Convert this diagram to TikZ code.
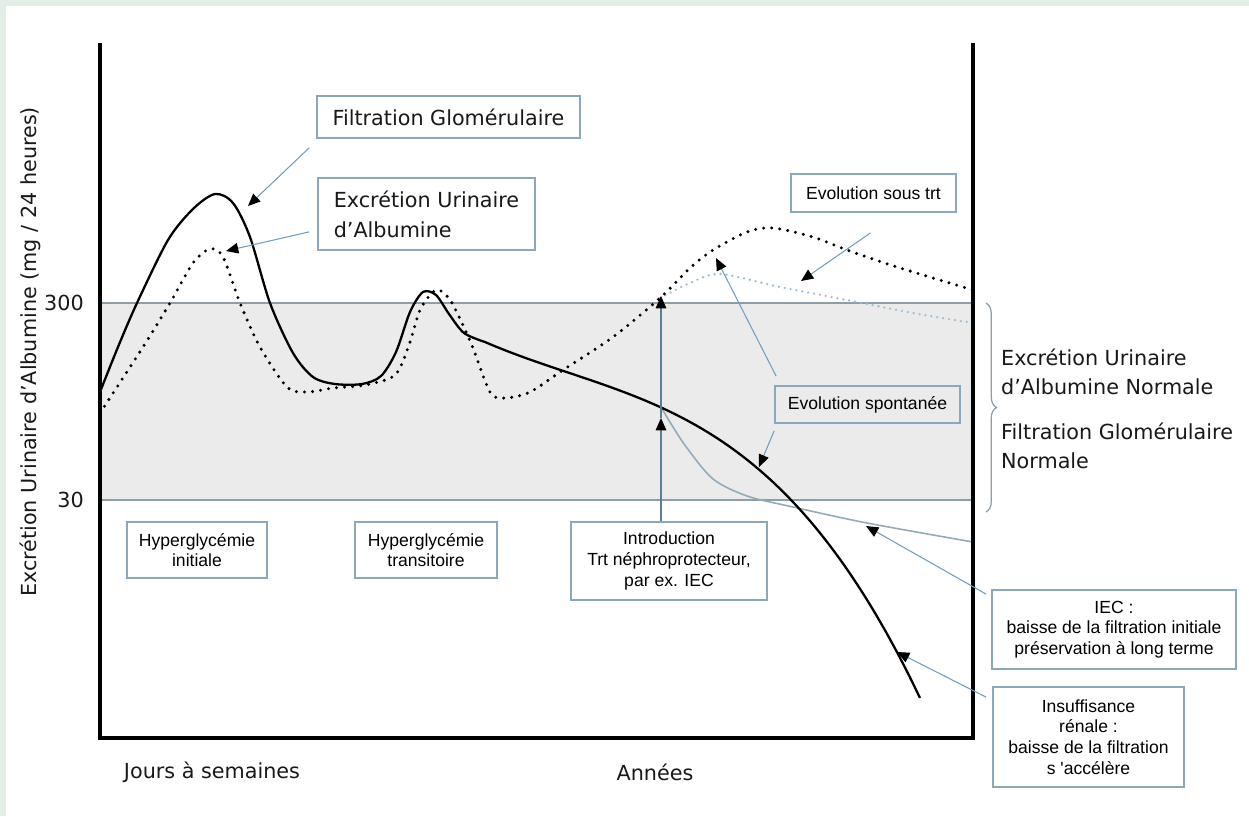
\documentclass[tikz,border=0pt]{standalone}
\usepackage{fontspec}
\setmainfont{DejaVu Sans}
\newfontfamily\boxfont{Liberation Sans}
\usepackage{tikz}
\usetikzlibrary{
    arrows.meta,
    calc,
    decorations.pathreplacing,
    positioning
}
\definecolor{framegreen}{HTML}{E2EFE6}
\definecolor{bandgray}{HTML}{EBEBEB}
\definecolor{bandline}{HTML}{8E9EA6}
\definecolor{leaderblue}{HTML}{6F9FBD}
\definecolor{boxblue}{HTML}{8AA8BA}
\definecolor{iecgray}{HTML}{93AAB8}
\definecolor{spontblue}{HTML}{A3BFD2}
\tikzset{
    axis/.style={line width=1.8pt, black, line join=miter},
    bandedge/.style={bandline, line width=0.8pt},
    fgcurve/.style={line width=1.3pt, black},
    euacurve/.style={line width=1.9pt, black, line cap=round, dash pattern=on 0pt off 4.6pt},
    spontcurve/.style={line width=1.5pt, spontblue, line cap=round, dash pattern=on 0pt off 3.4pt},
    ieccurve/.style={line width=0.9pt, iecgray},
    leader/.style={leaderblue, line width=0.6pt,
        -{Triangle[length=7pt, width=6pt, color=black, fill=black]}},
    introline/.style={leader, draw=leaderblue!80!black},
    bigbox/.style={draw=boxblue, line width=1pt, inner sep=0pt, align=left,
        font=\fontsize{11.8}{17}\selectfont, text=black!90},
    notebox/.style={draw=boxblue, line width=1pt, inner sep=0pt, align=center,
        font=\boxfont\fontsize{10}{11.8}\selectfont},
    bigtext/.style={font=\fontsize{11.8}{16.5}\selectfont, text=black!90, align=left},
    ticklabel/.style={font=\fontsize{11.8}{14}\selectfont, text=black!90, anchor=east}
}

\begin{document}
\begin{tikzpicture}[x=0.02cm, y=-0.02cm]
    \useasboundingbox (0,0) rectangle (1249,816);
    \fill[framegreen] (0,0) rectangle (1249,816);
    \fill[white] (6,6) rectangle (1249,816);
    % normal range
    \fill[bandgray] (100,303) rectangle (973,500);
    \draw[bandedge] (100,303) -- (973,303);
    \draw[bandedge] (100,500) -- (973,500);
    % curves
    \draw[ieccurve] plot[smooth] coordinates {(661,407) (673,427) (687,448) (713,479)
        (747,496) (793,507) (867,523) (973,542)};
    \draw[spontcurve] plot[smooth] coordinates {(660,298) (690,283) (720,274) (780,287)
        (847,300) (913,313) (973,323)};
    \draw[fgcurve] plot[smooth] coordinates {(100,392) (118,347) (137,303) (168,240)
        (193,209) (215,194) (233,203) (250,237) (270,303) (293,353) (313,377) (335,384)
        (362,384) (381,376) (396,352) (410,312) (423,292) (436,295) (449,314) (464,333)
        (485,342)}
        -- plot[domain=0:4.35, samples=40, smooth]
        ({485+100*\x}, {342 + 43.36*\x - 11.9*\x^2 + 4.769*\x^3});
    \draw[euacurve] plot[smooth] coordinates {(100,413) (143,347) (170,303) (193,263)
        (210,249) (223,257) (240,303) (260,347) (287,387) (307,392) (333,388) (365,385)
        (395,375) (409,345) (420,310) (433,292) (441,291) (452,303) (471,343) (490,392)
        (505,398) (530,392) (563,370) (613,337) (660,298) (690,268) (713,250) (747,232)
        (773,228) (813,237) (847,250) (897,267) (973,290)};
    \draw[axis] (100,43) -- (100,738) -- (973,738) -- (973,43);
    \draw[bandline, line width=0.7pt, decorate, decoration={brace, amplitude=6pt}]
        (986,303) -- (986,512);
    % axis texts
    \node[bigtext, rotate=90] (ylabel) at (30,352)
        {Excrétion Urinaire d’Albumine (mg / 24 heures)};
    \node[ticklabel] (t300) at (90,303) {300};
    \node[ticklabel] (t30) at (90,500) {30};
    \node[bigtext] (jours) at (212,772) {Jours à semaines};
    \node[bigtext] (annees) at (655,772) {Années};
    \node[bigtext, anchor=west] (euanorm) at (995,372) {Excrétion Urinaire\\d’Albumine Normale};
    \node[bigtext, anchor=west] (fgnorm) at (995,446) {Filtration Glomérulaire\\Normale};
    % boxes
    \node[bigbox, minimum width=5.26cm, minimum height=0.84cm] (fg) at (448.5,117)
        {Filtration Glomérulaire};
    \node[bigbox, minimum width=4.34cm, minimum height=1.44cm] (eua) at (426.5,214)
        {Excrétion Urinaire\\d’Albumine};
    \node[notebox, minimum width=3.3cm, minimum height=0.76cm] (sous) at (873.5,193)
        {Evolution sous trt};
    \node[notebox, minimum width=3.7cm, minimum height=0.74cm] (spont) at (867.5,404.5)
        {Evolution spontanée};
    \node[notebox, minimum width=2.8cm, minimum height=1.12cm] (hypinit) at (197,550)
        {Hyperglycémie\\initiale};
    \node[notebox, minimum width=2.84cm, minimum height=1.12cm] (hyptrans) at (426,550)
        {Hyperglycémie\\transitoire};
    \node[notebox, minimum width=3.92cm, minimum height=1.56cm] (intro) at (669,561)
        {Introduction\\Trt néphroprotecteur,\\par ex. IEC};
    \node[notebox, minimum width=4.88cm, minimum height=1.58cm] (iec) at (1114,629.5)
        {IEC :\\baisse de la filtration initiale\\préservation à long terme};
    \node[notebox, minimum width=3.82cm, minimum height=2cm] (ins) at (1088.5,737)
        {Insuffisance\\rénale :\\baisse de la filtration\\s 'accélère};
    % arrow targets
    \coordinate (fgtip) at (248,206);
    \coordinate (euatip) at (226,251);
    \coordinate (soustip) at (801,281);
    \coordinate (sponttipA) at (716,258);
    \coordinate (sponttipB) at (759,467);
    \coordinate (iectip) at (866,526);
    \coordinate (instip) at (897,652);
    \coordinate (introtipA) at (661,418);
    \coordinate (introtipB) at (661,296);
    \draw[leader] ($(fg.south west)+(-7,9)$) -- (fgtip);
    \draw[leader] ($(eua.south west)+(-8,-19)$) -- (euatip);
    \draw[leader] ($(sous.south)+(-3,20)$) -- (soustip);
    \draw[leader] ($(spont.north west)+(2,-9)$) -- (sponttipA);
    \draw[leader] ($(spont.south west)+(0,7)$) -- (sponttipB);
    \draw[leader] ($(iec.north west)+(-5,5)$) -- (iectip);
    \draw[leader] ($(ins.north west)+(-6,11)$) -- (instip);
    \draw[introline] (intro.north -| introtipA) -- (introtipA);
    \draw[introline] (introtipA) -- (introtipB);
\end{tikzpicture}
\end{document}
